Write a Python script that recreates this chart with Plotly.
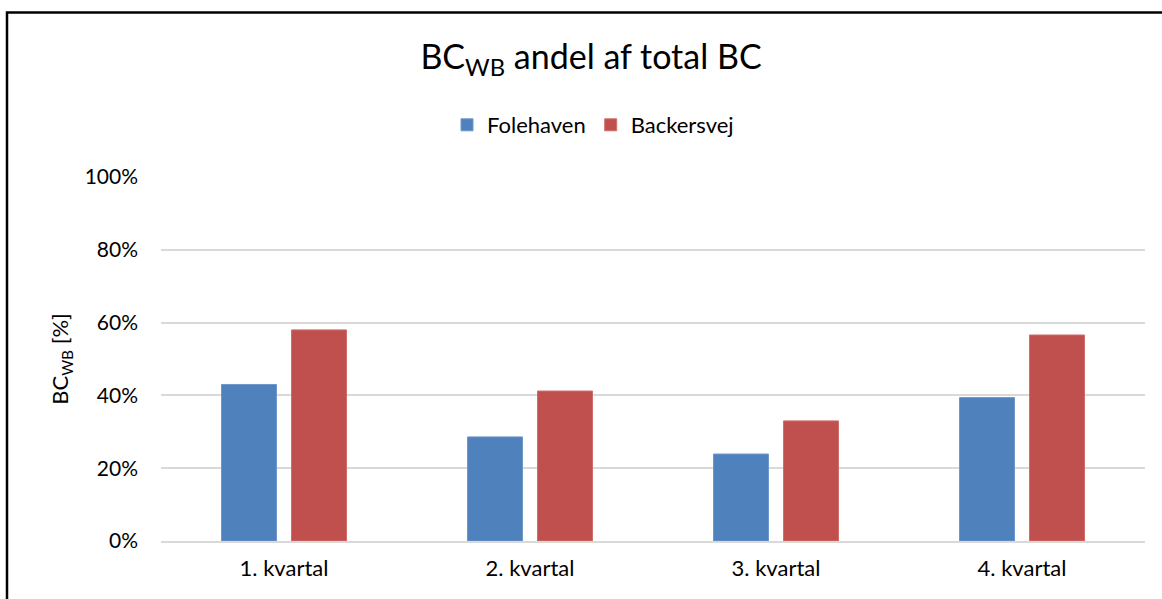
import plotly.graph_objects as go

categories = ["1. kvartal", "2. kvartal", "3. kvartal", "4. kvartal"]
folehaven = [0.430, 0.286, 0.239, 0.394]
backersvej = [0.580, 0.412, 0.330, 0.566]
y_ticks = [0, 0.2, 0.4, 0.6, 0.8, 1.0]
y_ticktext = ["0%", "20%", "40%", "60%", "80%", "100%"]

FONT = "Lato"
W, H = 1162, 599
L, R, T, B = 161, 17, 177, 58

fig = go.Figure()
fig.add_trace(go.Bar(name="Folehaven", x=categories, y=folehaven,
                     marker=dict(color="#4F81BD", line=dict(color="#6E98CB", width=1))))
fig.add_trace(go.Bar(name="Backersvej", x=categories, y=backersvej,
                     marker=dict(color="#C0504D", line=dict(color="#D06E6B", width=1))))

pw = W - L - R
ph = H - T - B

fig.update_layout(
    width=W, height=H,
    margin=dict(l=L, r=R, t=T, b=B, autoexpand=False),
    paper_bgcolor="white", plot_bgcolor="white",
    font=dict(family=FONT, color="#000000", size=21),
    barmode="group", bargap=0.431, bargroupgap=0.214,
    title=dict(text="BC<sub>WB</sub> andel af total BC", x=591 / W, xanchor="center",
               y=(H - 57) / H, yanchor="middle", yref="container",
               font=dict(family=FONT, size=34, color="#000000")),
    legend=dict(orientation="h", x=(593 - L) / pw, xanchor="center",
                y=(541 - 125) / ph, yanchor="middle",
                font=dict(family=FONT, size=22, color="#000000"),
                bgcolor="rgba(0,0,0,0)", traceorder="normal", itemwidth=30),
    xaxis=dict(showgrid=False, showline=True, linecolor="#D9D9D9", linewidth=1.5,
               ticks="", tickfont=dict(family=FONT, size=22), ticklabelstandoff=7),
    yaxis=dict(range=[0, 1], tickvals=y_ticks, ticktext=y_ticktext,
               showgrid=True, gridcolor="#D9D9D9", gridwidth=1.5,
               zeroline=False, showline=False, ticks="",
               tickfont=dict(family=FONT, size=21), ticklabelstandoff=22,
               title=dict(text="BC<sub>WB</sub> [%]", font=dict(family=FONT, size=22),
                          standoff=9)),
    shapes=[dict(type="rect", xref="paper", yref="paper",
                 x0=(7 - L) / pw, x1=(1175 - L) / pw,
                 y0=(541 - 620) / ph, y1=(541 - 12.5) / ph,
                 line=dict(color="black", width=2.5), fillcolor="rgba(0,0,0,0)",
                 layer="above")],
)

fig.write_html("out.html", config={"displayModeBar": False},
               post_script="document.body.style.margin='0';document.body.style.overflow='hidden';")
